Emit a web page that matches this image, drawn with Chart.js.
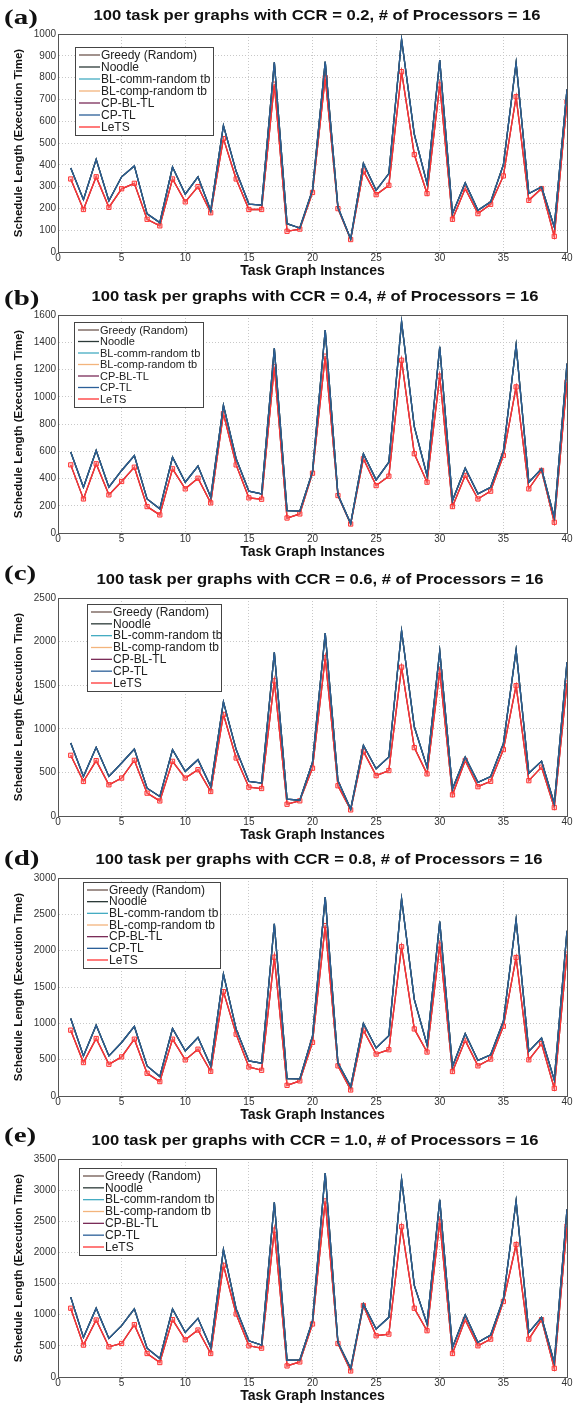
<!DOCTYPE html>
<html>
<head>
<meta charset="utf-8">
<script src="https://cdn.jsdelivr.net/npm/chart.js@4.4.1/dist/chart.umd.min.js"></script>
<style>
  html, body { margin: 0; padding: 0; background: #fff; }
  #page { position: relative; width: 582px; height: 1406px; overflow: hidden; }
  .panel { position: absolute; left: 0; width: 582px; height: 280px; }
  .tag {
    position: absolute; left: 4px; font: bold 20px "Liberation Serif", "Times New Roman", serif;
    line-height: 20px; color: #111; transform: scaleX(1.45); transform-origin: left center;
  }
</style>
</head>
<body>
<div id="page"></div>
<script>
// task graph instances on the x axis
const instances = Array.from({ length: 40 }, (_, i) => i + 1);
const ccrValues = ['0.2', '0.4', '0.6', '0.8', '1.0'];
const panelTags = ['(a)', '(b)', '(c)', '(d)', '(e)'];
const yMax = [1000, 1600, 2500, 3000, 3500];
const yStep = [100, 200, 500, 500, 500];

// upper bundle = Greedy / Noodle / BL-comm / CP-TL, lower bundle = LeTS / BL-comp / CP-BL-TL
const upperA = [385, 240, 425, 235, 345, 395, 175, 135, 390, 265, 345, 190, 580, 370, 220, 215, 870, 130, 110, 285,
  873, 205, 60, 406, 283, 360, 975, 540, 314, 880, 176, 317, 191, 230, 400, 868, 268, 299, 115, 746];
const lowerA = [335, 195, 345, 205, 290, 315, 150, 120, 335, 230, 300, 180, 520, 335, 195, 195, 770, 95, 105, 273,
  800, 199, 57, 372, 263, 306, 827, 447, 268, 766, 150, 291, 176, 219, 349, 712, 237, 291, 72, 689];

const upperB = [594, 336, 606, 336, 459, 569, 250, 177, 557, 373, 491, 263, 937, 545, 307, 287, 1355, 164, 160, 450,
  1490, 280, 70, 582, 390, 520, 1551, 780, 422, 1367, 238, 476, 287, 336, 600, 1379, 373, 471, 115, 1244];
const lowerB = [500, 250, 508, 280, 378, 483, 194, 133, 471, 324, 402, 221, 876, 500, 258, 248, 1220, 110, 140, 439,
  1298, 275, 66, 545, 348, 417, 1268, 582, 373, 1151, 194, 422, 250, 307, 569, 1072, 324, 459, 79, 1109];

const upperC = [838, 454, 788, 454, 608, 769, 319, 223, 762, 512, 646, 338, 1308, 762, 396, 377, 1877, 192, 181, 618,
  2097, 405, 80, 811, 541, 676, 2124, 1023, 560, 1892, 309, 676, 386, 452, 830, 1903, 490, 629, 143, 1764];
const lowerC = [696, 396, 635, 358, 435, 638, 262, 173, 627, 435, 531, 281, 1165, 665, 331, 315, 1550, 135, 174, 548,
  1815, 347, 70, 741, 463, 521, 1707, 784, 483, 1660, 243, 637, 336, 398, 761, 1494, 405, 560, 97, 1525];

const upperD = [1067, 552, 975, 552, 736, 957, 414, 267, 929, 621, 805, 414, 1679, 920, 483, 451, 2370, 239, 235, 822,
  2737, 452, 129, 997, 660, 831, 2714, 1329, 706, 2400, 406, 858, 489, 568, 1029, 2428, 614, 798, 222, 2275];
const lowerD = [906, 460, 791, 437, 538, 782, 313, 198, 782, 497, 644, 340, 1436, 851, 400, 354, 1910, 147, 208, 738,
  2345, 415, 83, 905, 577, 637, 2054, 923, 605, 2077, 337, 766, 415, 508, 960, 1906, 498, 720, 106, 1952];

const upperE = [1282, 635, 1104, 619, 824, 1093, 463, 296, 1093, 716, 942, 474, 2046, 1093, 582, 512, 2805, 269, 275, 905,
  3274, 555, 140, 1174, 770, 958, 3177, 1470, 851, 2843, 474, 996, 555, 673, 1255, 2827, 716, 958, 232, 2692];
const lowerE = [1104, 512, 915, 485, 538, 840, 377, 232, 921, 598, 754, 377, 1793, 1012, 501, 463, 2358, 178, 242, 851,
  2827, 538, 97, 1147, 662, 689, 2412, 1104, 743, 2493, 377, 921, 501, 608, 1212, 2127, 608, 921, 140, 2423];

const upper = [upperA, upperB, upperC, upperD, upperE];
const lower = [lowerA, lowerB, lowerC, lowerD, lowerE];

// layout per panel
const panelTop = [0, 281, 564, 844, 1125];
const tagTop = [7, 7, -1, 4, 0];
const titleX = [317, 315, 320, 319, 315];
const legendBox = [
  { dx: 17, dy: 13, w: 138, h: 88, size: 12 },
  { dx: 16, dy: 7, w: 129, h: 85, size: 11 },
  { dx: 29, dy: 6, w: 134, h: 87, size: 12 },
  { dx: 25, dy: 4, w: 137, h: 86, size: 12 },
  { dx: 21, dy: 9, w: 137, h: 87, size: 12 }
];

const FONT = '"Liberation Sans", Arial, Helvetica, sans-serif';

// matlab-like frame: stretched title, box round the axes, legend box
const matlabFrame = {
  id: 'matlabFrame',
  afterDatasetsDraw(chart, args, opts) {
    const { ctx, chartArea: a } = chart;
    ctx.save();
    ctx.strokeStyle = '#555';
    ctx.lineWidth = 1;
    ctx.strokeRect(Math.round(a.left) + 0.5, Math.round(a.top) + 0.5, Math.round(a.width), Math.round(a.height));

    // title, widened like the scanned figure
    ctx.font = 'bold 14px ' + FONT;
    ctx.fillStyle = '#111';
    ctx.textBaseline = 'middle';
    ctx.textAlign = 'center';
    const tw = ctx.measureText(opts.title).width;
    const sx = opts.titleWidth / tw;
    ctx.save();
    ctx.translate(opts.titleX, opts.titleY);
    ctx.scale(sx, 1);
    ctx.fillText(opts.title, 0, 0);
    ctx.restore();
    ctx.textAlign = 'left';

    const x = Math.round(a.left + opts.dx), y = Math.round(a.top + opts.dy);
    ctx.fillStyle = '#fff';
    ctx.fillRect(x, y, opts.w, opts.h);
    ctx.strokeStyle = '#444';
    ctx.strokeRect(x + 0.5, y + 0.5, opts.w, opts.h);
    ctx.font = opts.size + 'px ' + FONT;
    const row = (opts.h - 16) / 6;
    chart.data.datasets.forEach((ds, i) => {
      const yy = y + 8 + i * row;
      ctx.strokeStyle = ds.borderColor;
      ctx.lineWidth = 1.3;
      ctx.beginPath();
      ctx.moveTo(x + 4, yy);
      ctx.lineTo(x + 25, yy);
      ctx.stroke();
      ctx.fillStyle = '#222';
      ctx.fillText(ds.label, x + 26, yy + 0.5);
    });
    ctx.restore();
  }
};

const seriesStyle = [
  { label: 'Greedy (Random)', color: '#6e5750', order: 2 },
  { label: 'Noodle', color: '#2c3a38', order: 1 },
  { label: 'BL-comm-random tb', color: '#45acc2', order: 3 },
  { label: 'BL-comp-random tb', color: '#f3b47c', order: 6 },
  { label: 'CP-BL-TL', color: '#7a2c58', order: 5 },
  { label: 'CP-TL', color: '#2b5f98', order: 0 },
  { label: 'LeTS', color: '#ff3434', order: 4 }
];
const useUpper = [true, true, true, false, false, true, false];

const page = document.getElementById('page');

ccrValues.forEach((ccr, p) => {
  const div = document.createElement('div');
  div.className = 'panel';
  div.style.top = panelTop[p] + 'px';
  const canvas = document.createElement('canvas');
  canvas.width = 582;
  canvas.height = 280;
  div.appendChild(canvas);
  const tag = document.createElement('div');
  tag.className = 'tag';
  tag.style.top = tagTop[p] + 'px';
  tag.textContent = panelTags[p];
  div.appendChild(tag);
  page.appendChild(div);

  const datasets = seriesStyle.map((s, k) => {
    const vals = useUpper[k] ? upper[p] : lower[p];
    const isLets = s.label === 'LeTS';
    return {
      label: s.label,
      data: vals.map((v, i) => ({ x: instances[i], y: v })),
      borderColor: s.color,
      backgroundColor: isLets ? 'rgba(255,140,140,0.35)' : s.color,
      borderWidth: 1.3,
      order: s.order,
      pointStyle: 'rect',
      pointRadius: isLets ? 3 : 0,
      pointBorderWidth: 1,
      pointBorderColor: s.color,
      tension: 0
    };
  });

  new Chart(canvas.getContext('2d'), {
    type: 'line',
    data: { datasets },
    options: {
      responsive: false,
      animation: false,
      layout: { padding: { left: 0, right: 15, top: 34, bottom: 0 } },
      plugins: {
        legend: { display: false },
        tooltip: { enabled: false },
        title: { display: false },
        matlabFrame: Object.assign({
          title: '100 task per graphs with CCR = ' + ccr + ', # of Processors = 16',
          titleX: titleX[p], titleY: 16, titleWidth: 447
        }, legendBox[p])
      },
      scales: {
        x: {
          type: 'linear',
          min: 0,
          max: 40,
          afterFit: s => { s.height = 28; },
          ticks: { stepSize: 5, padding: 0, color: '#333', font: { family: FONT, size: 10 }, maxRotation: 0 },
          grid: { color: '#c8c8c8', drawTicks: false },
          border: { display: true, color: '#555', dash: [1, 2] },
          title: {
            display: true, text: 'Task Graph Instances', color: '#111',
            font: { family: FONT, size: 14, weight: 'bold' }, padding: { top: 0, bottom: 0 }
          }
        },
        y: {
          min: 0,
          max: yMax[p],
          afterFit: s => { s.width = 58; },
          ticks: {
            stepSize: yStep[p], padding: 2, color: '#333', font: { family: FONT, size: 10 },
            callback: v => String(v)
          },
          grid: { color: '#c8c8c8', drawTicks: false },
          border: { display: true, color: '#555', dash: [1, 2] },
          title: {
            display: true, text: 'Schedule Length (Execution Time)', color: '#111',
            font: { family: FONT, size: 11.5, weight: 'bold' }, padding: { top: 12, bottom: 0 }
          }
        }
      }
    },
    plugins: [matlabFrame]
  });
});
</script>
</body>
</html>
